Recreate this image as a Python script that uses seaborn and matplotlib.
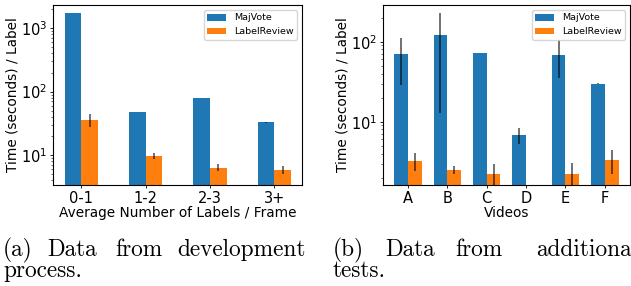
import matplotlib
matplotlib.use("Agg")
import matplotlib.pyplot as plt
import numpy as np
import pandas as pd
import seaborn as sns

# (a) development process
dev_groups = ["0-1", "1-2", "2-3", "3+"]
dev_majvote = [1725, 47, 78.5, 32.8]
dev_majvote_lo = [1725, 47, 78.5, 32.3]
dev_majvote_hi = [1725, 47, 78.5, 33.3]
dev_review = [35.7, 9.6, 6.2, 5.8]
dev_review_lo = [28.0, 8.5, 5.6, 5.0]
dev_review_hi = [43.8, 10.9, 7.1, 6.7]

# (b) additional tests
videos = ["A", "B", "C", "D", "E", "F"]
test_majvote = [70, 121, 72, 6.8, 68, 30]
test_majvote_lo = [28.7, 13.0, 72, 5.26, 35, 29.7]
test_majvote_hi = [110, 226, 72, 8.25, 105, 30.3]
test_review = [3.22, 2.49, 2.22, np.nan, 2.22, 3.3]
test_review_lo = [2.44, 2.2, 1.4, np.nan, 1.4, 2.22]
test_review_hi = [4.02, 2.8, 2.96, np.nan, 3.03, 4.4]

series = ["MajVote", "LabelReview"]
palette = ["#1f77b4", "#ff7f0e"]


def long_frame(cats, a, b):
    return pd.DataFrame({
        "cat": cats * 2,
        "value": list(a) + list(b),
        "method": [series[0]] * len(cats) + [series[1]] * len(cats),
    })


def draw_panel(ax, cats, maj, rev, errs, width, xlabel, ylim, xlim):
    df = long_frame(cats, maj, rev)
    sns.barplot(data=df, x="cat", y="value", hue="method", hue_order=series,
                palette=palette, width=width, errorbar=None, saturation=1,
                ax=ax)
    ax.set_yscale("log")
    x = np.arange(len(cats))
    offs = [-width / 4, width / 4]
    for off, (vals, lo, hi) in zip(offs, errs):
        vals = np.asarray(vals, float)
        yerr = [vals - np.asarray(lo, float), np.asarray(hi, float) - vals]
        ax.errorbar(x + off, vals, yerr=yerr, fmt="none", ecolor="black",
                    alpha=0.6, elinewidth=1.3)
    ax.set_ylim(*ylim)
    ax.set_xlim(*xlim)
    ax.set_xlabel(xlabel, fontsize=9.8, labelpad=0)
    ax.set_ylabel("Time (seconds) / Label", fontsize=9.8, labelpad=1)
    ax.tick_params(which="major", labelsize=10.5, length=2.5, width=0.6, pad=2)
    ax.tick_params(axis="y", which="major", pad=1.5)
    ax.tick_params(which="minor", length=1.5, width=0.4)
    for s in ax.spines.values():
        s.set_visible(True)
        s.set_color("black")
        s.set_linewidth(0.8)
    ax.legend(loc="upper right", fontsize=6.8, framealpha=0.8)


fig = plt.figure(figsize=(6.31, 2.86), dpi=100)
ax1 = fig.add_axes([53 / 631, 1 - 185 / 286, 249 / 631, 180 / 286])
ax2 = fig.add_axes([383 / 631, 1 - 185 / 286, 247 / 631, 180 / 286])

draw_panel(ax1, dev_groups, dev_majvote, dev_review,
           [(dev_majvote, dev_majvote_lo, dev_majvote_hi),
            (dev_review, dev_review_lo, dev_review_hi)],
           0.52, "Average Number of Labels / Frame", (3.36, 2330), (-0.44, 3.43))
draw_panel(ax2, videos, test_majvote, test_review,
           [(test_majvote, test_majvote_lo, test_majvote_hi),
            (test_review, test_review_lo, test_review_hi)],
           0.7, "Videos", (1.62, 287), (-0.635, 5.64))

# captions, justified word by word like the LaTeX layout
cap_font = dict(family="cmr10", fontsize=16.8, va="baseline")
for x, w in [(3, "(a)"), (47, "Data"), (115, "from"), (177, "development")]:
    fig.text(x / 631, 1 - 256 / 286, w, **cap_font)
fig.text(3 / 631, 1 - 277 / 286, "process.", **cap_font)
for x, w in [(333, "(b)"), (385, "Data"), (455, "from"), (536, "additional")]:
    fig.text(x / 631, 1 - 256 / 286, w, **cap_font)
fig.text(333 / 631, 1 - 277 / 286, "tests.", **cap_font)

fig.savefig("out.png", dpi=100)
